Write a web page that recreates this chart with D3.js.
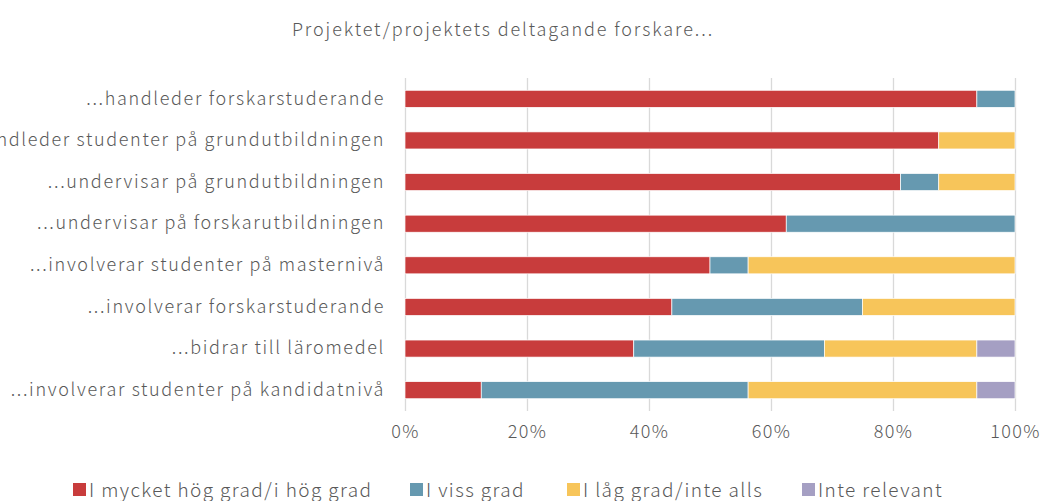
<!DOCTYPE html>
<html>
<head>
<meta charset="utf-8">
<script src="https://cdn.jsdelivr.net/npm/d3@7"></script>
<style>
  body { margin: 0; background: #fff; }
  text { font-family: "Noto Sans CJK JP", "Noto Sans", sans-serif; font-weight: 300; fill: #595959; }
</style>
</head>
<body>
<div class="chart-container"></div>
<script>
// data
const categories = [
    '...handleder forskarstuderande',
    '...handleder studenter på grundutbildningen',
    '...undervisar på grundutbildningen',
    '...undervisar på forskarutbildningen',
    '...involverar studenter på masternivå',
    '...involverar forskarstuderande',
    '...bidrar till läromedel',
    '...involverar studenter på kandidatnivå'
];
const seriesNames = ['I mycket hög grad/i hög grad', 'I viss grad', 'I låg grad/inte alls', 'Inte relevant'];
const highValues = [93.75, 87.5, 81.25, 62.5, 50, 43.75, 37.5, 12.5];
const someValues = [6.25, 0, 6.25, 37.5, 6.25, 31.25, 31.25, 43.75];
const lowValues = [0, 12.5, 12.5, 0, 43.75, 25, 25, 37.5];
const notRelevantValues = [0, 0, 0, 0, 0, 0, 6.25, 6.25];
const tickValues = [0, 0.2, 0.4, 0.6, 0.8, 1];
const colors = ['#c83c3c', '#6699b0', '#f7c55a', '#a59fc3'];

const rows = categories.map((c, i) => ({
    cat: c,
    [seriesNames[0]]: highValues[i],
    [seriesNames[1]]: someValues[i],
    [seriesNames[2]]: lowValues[i],
    [seriesNames[3]]: notRelevantValues[i]
}));

const svg_width = 1043;
const svg_height = 501;
const margin = { top: 78, right: 28, bottom: 90, left: 405 };
const chart_width = svg_width - margin.left - margin.right;
const chart_height = svg_height - margin.top - margin.bottom;

const svg = d3.select('.chart-container').append('svg')
    .attr('width', svg_width).attr('height', svg_height);
const g = svg.append('g').attr('transform', `translate(${margin.left},${margin.top})`);

const xScale = d3.scaleLinear().domain([0, 1]).range([0, chart_width]);
const yScale = d3.scaleBand().domain(categories).range([0, chart_height]).paddingInner(0.59).paddingOuter(0.295);
const color = d3.scaleOrdinal().domain(seriesNames).range(colors);

// gridlines + tick labels
const xAxis = d3.axisBottom(xScale).tickValues(tickValues)
    .tickFormat(d3.format('.0%'))
    .tickSizeInner(-chart_height).tickSizeOuter(0).tickPadding(14);
const xAxisDraw = g.append('g').attr('transform', `translate(0,${chart_height})`).call(xAxis);
xAxisDraw.select('.domain').remove();
xAxisDraw.selectAll('.tick line').attr('stroke', '#d9d9d9').attr('stroke-width', 1.3);
xAxisDraw.selectAll('.tick text').style('font-size', '18px').style('letter-spacing', '1.4px')
    .style('font-family', '"Noto Sans CJK JP", sans-serif').attr('fill', '#595959');

// bars
const stacked = d3.stack().keys(seriesNames)(rows.map(r => {
    const o = { cat: r.cat };
    seriesNames.forEach(k => o[k] = r[k] / 100);
    return o;
}));
g.selectAll('.series').data(stacked).enter().append('g')
    .attr('class', 'series').attr('fill', d => color(d.key))
    .selectAll('rect').data(d => d).enter().append('rect')
    .attr('x', d => xScale(d[0]))
    .attr('y', d => yScale(d.data.cat))
    .attr('width', d => xScale(d[1]) - xScale(d[0]))
    .attr('height', yScale.bandwidth())
    .attr('stroke', '#fff').attr('stroke-width', 0.7);

// category labels
const yAxis = d3.axisLeft(yScale).tickSize(0).tickPadding(20);
const yAxisDraw = g.append('g').call(yAxis);
yAxisDraw.select('.domain').remove();
yAxisDraw.selectAll('text').style('font-size', '18px').style('letter-spacing', '1.65px')
    .style('font-family', '"Noto Sans CJK JP", sans-serif').attr('fill', '#595959');

// title
svg.append('text').attr('x', 503).attr('y', 36).attr('text-anchor', 'middle')
    .style('font-size', '18px').style('letter-spacing', '1.9px')
    .text('Projektet/projektets deltagande forskare...');

// legend
const legendX = [73, 410, 567, 802];
const legend = svg.append('g').selectAll('g').data(seriesNames).enter().append('g')
    .attr('transform', (d, i) => `translate(${legendX[i]},483)`);
legend.append('rect').attr('width', 13).attr('height', 13).attr('fill', d => color(d));
legend.append('text').attr('x', 16).attr('y', 14).style('font-size', '19px')
    .style('letter-spacing', '1.4px').text(d => d);
</script>
</body>
</html>
